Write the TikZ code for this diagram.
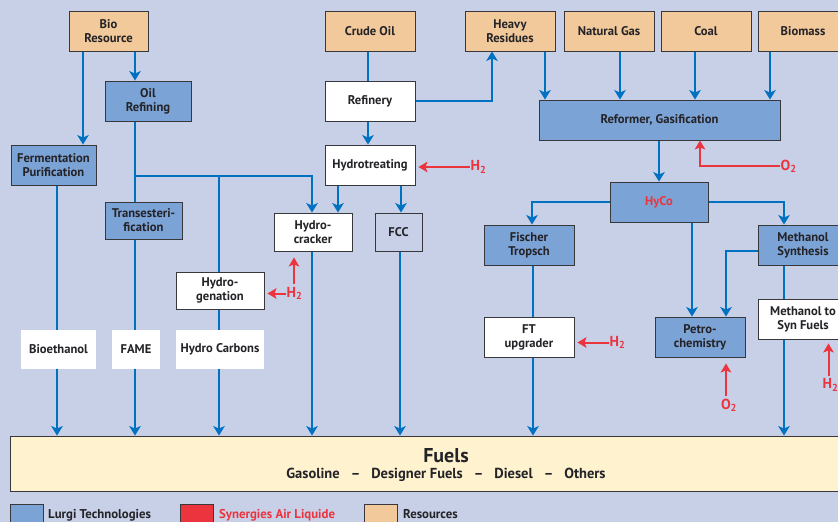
\documentclass[tikz,border=0pt]{standalone}
\usepackage{fontspec}
\setmainfont{PT Sans}
\usetikzlibrary{arrows.meta}

\definecolor{bgblue}{RGB}{200,208,232}
\definecolor{lurgiblue}{RGB}{124,163,213}
\definecolor{resorange}{RGB}{242,201,154}
\definecolor{fuelcream}{RGB}{255,242,207}
\definecolor{pipeblue}{RGB}{0,112,192}
\definecolor{alred}{RGB}{235,52,62}
\definecolor{boxgray}{RGB}{55,55,60}
\definecolor{txtgray}{RGB}{35,35,40}

\pgfdeclarelayer{back}
\pgfdeclarelayer{pipes}
\pgfsetlayers{back,pipes,main}

\tikzset{
  box/.style={draw=boxgray, line width=0.9pt, align=center, text=txtgray,
    font=\fontsize{12.6}{14}\selectfont\bfseries, inner sep=1pt, minimum height=40},
  lurgi/.style={box, fill=lurgiblue},
  resource/.style={box, fill=resorange},
  plant/.style={box, fill=white},
  product/.style={box, draw=none, fill=white},
  keytext/.style={anchor=base west, text=txtgray, font=\fontsize{12.8}{14}\selectfont\bfseries, inner sep=0pt},
  pipe/.style={pipeblue, line width=2.3pt},
  flow/.style={pipe, -{Stealth[length=9.5pt,width=11.5pt,inset=2.5pt]}},
  gas/.style={text=alred, font=\fontsize{14.5}{16}\selectfont\bfseries, inner sep=0.5pt},
  gasflow/.style={alred, line width=2pt, -{Stealth[length=9pt,width=10.5pt,inset=2pt]}},
}

\begin{document}
\begin{tikzpicture}[x=1pt,y=-1pt]
\useasboundingbox (0,0) rectangle (838,522);
\begin{pgfonlayer}{back}
  \fill[bgblue] (0,0) rectangle (838,522);
\end{pgfonlayer}

% resources
\node[resource, minimum width=79] (biores) at (108.5,31) {Bio\\Resource};
\node[resource, minimum width=90] (crude) at (370,31) {Crude Oil};
\node[resource, minimum width=90] (heavy) at (510,31) {Heavy\\Residues};
\node[resource, minimum width=90] (natgas) at (609,31) {Natural Gas};
\node[resource, minimum width=90] (coal) at (706,31) {Coal};
\node[resource, minimum width=90] (biomass) at (803,31) {Biomass};

% processes
\node[lurgi, minimum width=86] (oilref) at (148,101) {Oil\\Refining};
\node[plant, minimum width=90] (refinery) at (370,101) {Refinery};
\node[lurgi, minimum width=85] (ferm) at (53.5,165) {Fermentation\\Purification};
\node[plant, minimum width=90] (hydrotr) at (370,165) {Hydrotreating};
\node[lurgi, minimum width=241] (reformer) at (659.5,120) {Reformer, Gasification};
\node[lurgi, minimum width=98, text=alred] (hyco) at (659,202) {HyCo};
\node[lurgi, minimum width=77, minimum height=37] (trans) at (143.5,220.5) {Transesteri-\\fication};
\node[plant, minimum width=78, minimum height=38] (hcrack) at (313,232) {Hydro-\\cracker};
\node[box, fill=bgblue, minimum width=47, minimum height=38] (fcc) at (398.5,232) {FCC};
\node[lurgi, minimum width=90] (fischer) at (529,245) {Fischer\\Tropsch};
\node[lurgi, minimum width=90] (methsyn) at (803,245) {Methanol\\Synthesis};
\node[plant, minimum width=88, minimum height=37] (hgen) at (220,290.5) {Hydro-\\genation};
\node[plant, minimum width=90] (ftup) at (529,337) {FT\\upgrader};
\node[lurgi, minimum width=90] (petro) at (700,337) {Petro-\\chemistry};
\node[plant, minimum width=90] (mtsf) at (803,319) {Methanol to\\Syn Fuels};

% products
\node[product, minimum width=75, minimum height=39] (bioeth) at (58.5,349.5) {Bioethanol};
\node[product, minimum width=48, minimum height=39] (fame) at (136,349.5) {FAME};
\node[product, minimum width=88, minimum height=39] (hcarb) at (220,349.5) {Hydro Carbons};

\node[box, fill=fuelcream, minimum width=872, minimum height=55] (fuels) at (446,463.5) {};
\node[text=txtgray, font=\fontsize{20}{22}\selectfont\bfseries] (fuelname) at (446,455.5) {Fuels};
\node[text=txtgray, font=\fontsize{14.5}{16}\selectfont\bfseries] (fuelkinds) at (446,474.5)
  {Gasoline\ \ \ –\ \ \ Designer Fuels\ \ \ –\ \ \ Diesel\ \ \ –\ \ \ Others};

% gases
\node[gas, anchor=west] (h2treat) at (470,167) {H\textsubscript{2}};
\node[gas, anchor=west] (o2reform) at (780,166) {O\textsubscript{2}};
\node[gas, anchor=west] (h2crack) at (286,293.5) {H\textsubscript{2}};
\node[gas, anchor=west] (h2ft) at (609,342.5) {H\textsubscript{2}};
\node[gas] (o2petro) at (729,405) {O\textsubscript{2}};
\node[gas] (h2mtsf) at (830.5,385) {H\textsubscript{2}};

\draw[gasflow, shorten >=3] (h2treat.west) -- (h2treat.west -| hydrotr.east);
\draw[gasflow] (o2reform.west) -| (700,0 |- reformer.south);
\draw[gasflow, shorten >=3] (h2crack.west) -- (h2crack.west -| hgen.east);
\draw[gasflow, shorten <=3, shorten >=6] ([xshift=8]h2crack.north west) -- ([xshift=8]h2crack.north west |- hcrack.south);
\draw[gasflow, shorten >=3] (h2ft.west) -- (h2ft.west -| ftup.east);
\draw[gasflow, shorten <=2, shorten >=6] ([xshift=-3]o2petro.north) -- ([xshift=-3]o2petro.north |- petro.south);
\draw[gasflow, shorten <=2, shorten >=4] ([xshift=-2]h2mtsf.north) -- ([xshift=-2]h2mtsf.north |- mtsf.south);

% legend
\node[box, fill=lurgiblue, minimum width=33, minimum height=26] (keylurgi) at (26.5,517) {};
\node[keytext] (keylurgitxt) at (48,518.5) {Lurgi Technologies};
\node[box, fill=alred, minimum width=33, minimum height=26] (keyair) at (196.5,517) {};
\node[keytext, text=alred] (keyairtxt) at (219,518.5) {Synergies Air Liquide};
\node[box, fill=resorange, minimum width=33, minimum height=26] (keyres) at (381,517) {};
\node[keytext] (keyrestxt) at (403,518.5) {Resources};

% pipes
\begin{pgfonlayer}{pipes}
  \draw[flow] (83,0 |- biores.south) -- (83,0 |- ferm.north);
  \draw[flow] (135,0 |- biores.south) -- (135,0 |- oilref.north);
  \draw[flow] (135,0 |- oilref.south) -- (135,0 |- fuels.north);
  \draw[flow] (57,0 |- ferm.south) -- (57,0 |- fuels.north);
  \coordinate (split) at (135,176);
  \draw[flow] (split) -| (312,0 |- hcrack.north);
  \draw[flow] (219,0 |- split) -- (219,0 |- fuels.north);

  \draw[pipe] (368,0 |- crude.south) -- (368,0 |- refinery.north);
  \draw[flow] (refinery.east) -| (492,0 |- heavy.south);
  \draw[flow] (368,0 |- refinery.south) -- (368,0 |- hydrotr.north);
  \draw[flow] (338,0 |- hydrotr.south) -- (338,0 |- hcrack.north);
  \draw[flow] (401,0 |- hydrotr.south) -- (401,0 |- fcc.north);
  \draw[flow] (312,0 |- hcrack.south) -- (312,0 |- fuels.north);
  \draw[flow] (400,0 |- fcc.south) -- (400,0 |- fuels.north);

  \draw[flow] (545,0 |- heavy.south) -- (545,0 |- reformer.north);
  \foreach \xx/\src in {620/natgas, 695/coal, 770/biomass}
    \draw[flow] (\xx,0 |- \src.south) -- (\xx,0 |- reformer.north);
  \draw[flow] (659,0 |- reformer.south) -- (659,0 |- hyco.north);
  \draw[flow] (hyco.west) -| (532,0 |- fischer.north);
  \draw[flow] (hyco.east) -| (784,0 |- methsyn.north);
  \draw[flow] (692,0 |- hyco.south) -- (692,0 |- petro.north);
  \draw[flow] ([yshift=-6]methsyn.west) -| (726,0 |- petro.north);
  \draw[flow] (533,0 |- fischer.south) -- (533,0 |- fuels.north);
  \draw[flow] (784,0 |- methsyn.south) -- (784,0 |- fuels.north);
\end{pgfonlayer}

\end{tikzpicture}
\end{document}
